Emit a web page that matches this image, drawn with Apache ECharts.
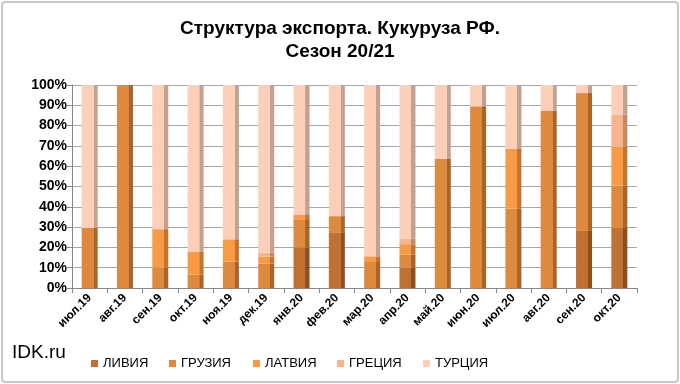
<!DOCTYPE html>
<html>
<head>
<meta charset="utf-8">
<script src="https://cdn.jsdelivr.net/npm/echarts@6/dist/echarts.min.js"></script>
<style>
html,body{margin:0;padding:0;background:#fff;}
#frame{position:absolute;left:1px;top:1px;width:674px;height:378px;border:2px solid #c8c8c8;border-radius:4px;}
#chart{position:absolute;left:0;top:0;width:680px;height:384px;}
</style>
</head>
<body>
<div id="frame"></div>
<div id="chart"></div>
<script>
var months = ['июл.19','авг.19','сен.19','окт.19','ноя.19','дек.19','янв.20','фев.20','мар.20','апр.20','май.20','июн.20','июл.20','авг.20','сен.20','окт.20'];

// доли, %
var libya   = [0, 0, 0, 0, 0, 0, 20, 27.5, 0, 10, 0, 0, 0, 0, 28.5, 29.5];
var georgia = [29.5, 100, 10, 6.5, 13, 12, 13.5, 7.5, 12.8, 6.4, 63.5, 89.5, 39, 87.5, 67.5, 21];
var latvia  = [0, 0, 19, 11.5, 11, 3.5, 2.5, 0.5, 2.8, 5.2, 0, 0, 29.5, 0, 0, 19];
var greece  = [0, 0, 0, 0, 0, 2, 0, 0, 0, 2.7, 0, 0, 0, 0, 0, 16];
var turkey  = [70.5, 0, 71, 82, 76, 82.5, 64, 64.5, 84.4, 75.7, 36.5, 10.5, 31.5, 12.5, 4, 14.5];

var names  = ['ЛИВИЯ','ГРУЗИЯ','ЛАТВИЯ','ГРЕЦИЯ','ТУРЦИЯ'];
var colors = ['#c07033','#dd8a3e','#f99b45','#f8b48c','#fccfb8'];
var sides  = ['#8e4f20','#a8652a','#c3742f','#c38a6a','#c4a090'];
var legendLeft = [86, 164, 248, 332, 418];

function shade(i){
	return new echarts.graphic.LinearGradient(0,0,1,0,[
		{offset:0,color:colors[i]},{offset:0.74,color:colors[i]},
		{offset:0.75,color:sides[i]},{offset:1,color:sides[i]}
	]);
}

var chart = echarts.init(document.getElementById('chart'));
var data = [libya, georgia, latvia, greece, turkey];
var series = [];
var legends = [];
for(var i=0;i<data.length;i++){
	series.push({
		name:names[i],
		type:'bar',
		stack:'all',
		barWidth:16,
		data:data[i],
		itemStyle:{color:shade(i)}
	});
	legends.push({
		data:[{name:names[i],itemStyle:{color:colors[i]}}],
		left:legendLeft[i],
		top:352,
		itemWidth:7,
		itemHeight:7,
		icon:'rect',
		textStyle:{fontFamily:'Liberation Sans Narrow, Liberation Sans',fontSize:13,color:'#000'}
	});
}

chart.setOption({
	animation:false,
	color:colors,
	title:{
		text:'Структура экспорта. Кукуруза РФ.\nСезон 20/21',
		left:'center',
		top:12,
		textStyle:{fontFamily:'Liberation Sans',fontWeight:'bold',fontSize:19,color:'#000',lineHeight:23}
	},
	graphic:[{
		type:'text',left:12,top:343,
		style:{text:'IDK.ru',fontFamily:'Liberation Sans',fontSize:19,fill:'#000'}
	}],
	legend:legends,
	grid:{left:72,right:43,top:85,bottom:96},
	xAxis:{
		type:'category',
		data:months,
		axisLine:{lineStyle:{color:'#888'}},
		axisTick:{show:true,lineStyle:{color:'#888'}},
		axisLabel:{rotate:45,fontFamily:'Liberation Sans',fontWeight:'bold',fontSize:12,color:'#000',margin:8}
	},
	yAxis:{
		type:'value',
		min:0,max:100,interval:10,
		axisLine:{show:true,lineStyle:{color:'#888'}},
		axisTick:{show:true,lineStyle:{color:'#888'}},
		splitLine:{lineStyle:{color:'#a6a6a6'}},
		axisLabel:{formatter:'{value}%',fontFamily:'Liberation Sans',fontWeight:'bold',fontSize:14,color:'#000',margin:5}
	},
	series:series
});
</script>
</body>
</html>
